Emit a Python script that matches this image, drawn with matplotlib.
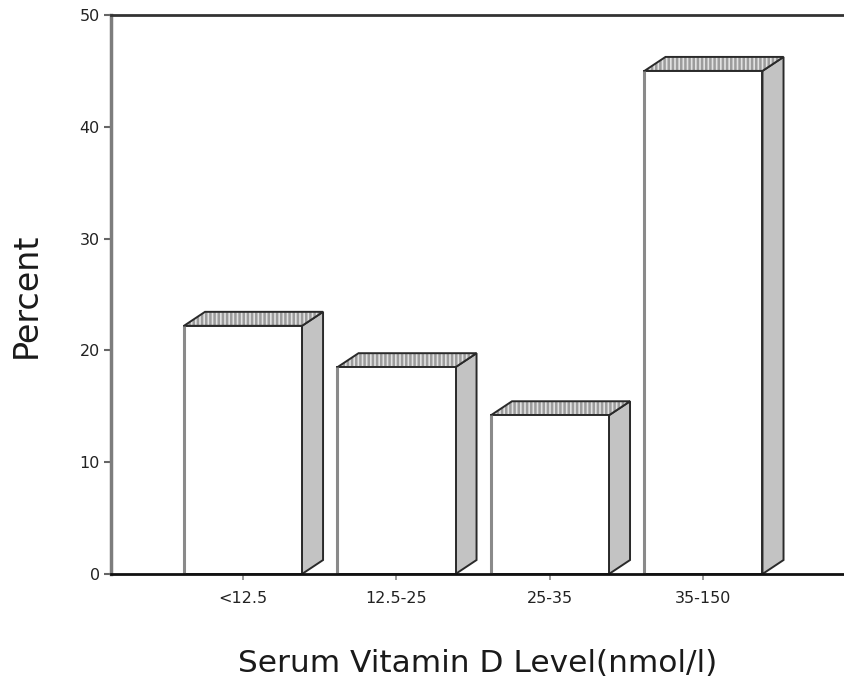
import matplotlib.pyplot as plt
from matplotlib.patches import Polygon, Rectangle

categories = ["<12.5", "12.5-25", "25-35", "35-150"]
percent = [22.2, 18.5, 14.2, 45.0]
y_ticks = [0, 10, 20, 30, 40, 50]

W, H = 845, 682
plt.rcParams["hatch.linewidth"] = 1.8
fig = plt.figure(figsize=(W / 100, H / 100), dpi=100)
ax = fig.add_axes([111 / W, 108 / H, 734 / W, 559 / H])
ax.set_xlim(-0.86, 3.922)
ax.set_ylim(0, 50)

# fake 3d bars: front face, shaded side, hatched top
w = 0.769
dx, dy = 0.137, 1.25
for i, v in enumerate(percent):
    x0, x1 = i - w / 2, i + w / 2
    ax.add_patch(Polygon([(x1, 0), (x1 + dx, dy), (x1 + dx, v + dy), (x1, v)],
                         facecolor="#c3c3c3", edgecolor="#2a2a2a", lw=1.4, zorder=2))
    ax.add_patch(Polygon([(x0, v), (x0 + dx, v + dy), (x1 + dx, v + dy), (x1, v)],
                         facecolor="#e2e2e2", edgecolor="#9c9c9c", hatch="||||", lw=0, zorder=2))
    ax.add_patch(Polygon([(x0, v), (x0 + dx, v + dy), (x1 + dx, v + dy), (x1, v)],
                         fill=False, edgecolor="#2a2a2a", lw=1.4, zorder=2))
    ax.add_patch(Rectangle((x0, 0), w, v, facecolor="white", edgecolor="#2a2a2a",
                           lw=1.4, zorder=2))
    ax.plot([x0, x0], [0, v], color="#8a8a8a", lw=2.2, zorder=2.1, solid_capstyle="butt")

ax.set_xticks(range(len(categories)), categories)
ax.set_yticks(y_ticks)
ax.tick_params(axis="x", length=4, width=1.2, color="#888888", pad=8,
               labelsize=11.5, labelcolor="#222222")
ax.tick_params(axis="y", length=5, width=1.5, color="#666666", pad=3,
               labelsize=11.5, labelcolor="#222222")

ax.spines["right"].set_visible(False)
ax.spines["left"].set_color("#7d7d7d")
ax.spines["left"].set_linewidth(2.5)
ax.spines["top"].set_color("#333333")
ax.spines["top"].set_linewidth(2)
ax.spines["bottom"].set_color("#111111")
ax.spines["bottom"].set_linewidth(2)

fig.text(478 / W, 1 - 663 / H, "Serum Vitamin D Level(nmol/l)", ha="center", va="center",
         fontsize=22.5, color="#1a1a1a")
fig.text(26 / W, 1 - 295 / H, "Percent", ha="center", va="center", rotation=90,
         fontsize=24, color="#1a1a1a")

plt.savefig("out.png", dpi=100)
